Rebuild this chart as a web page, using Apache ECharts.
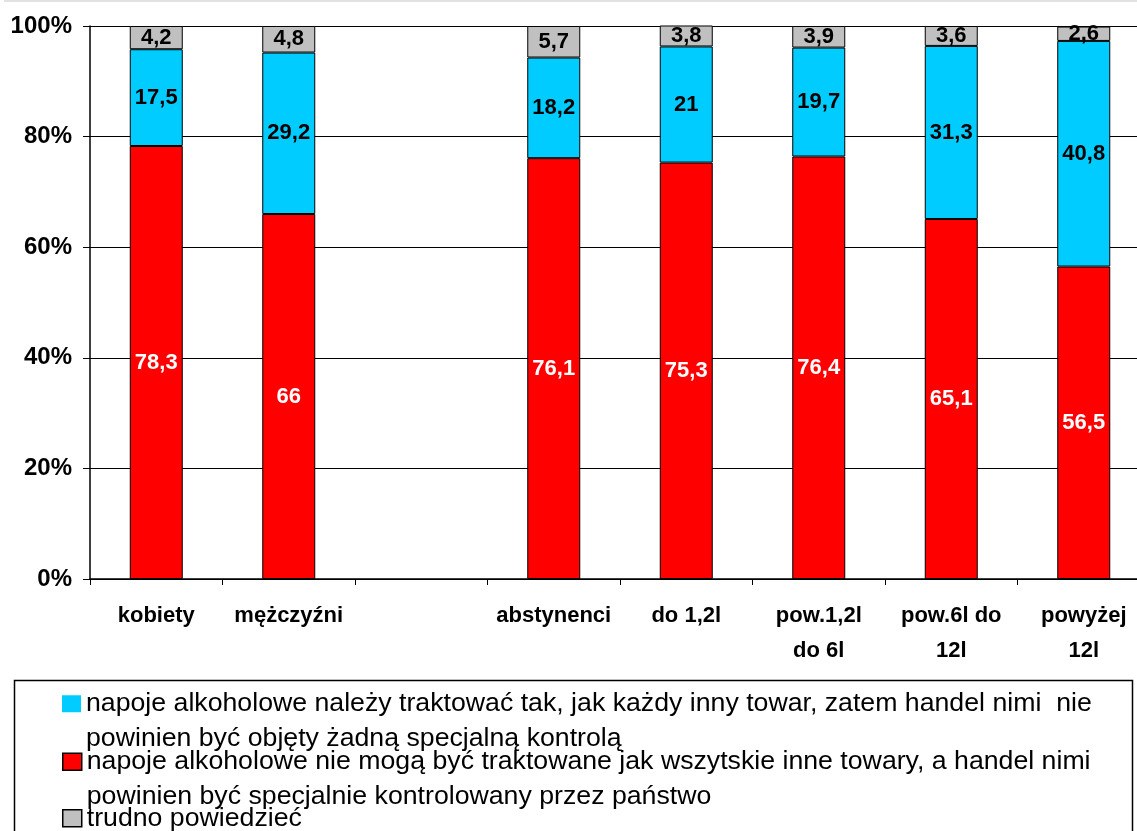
<!DOCTYPE html>
<html>
<head>
<meta charset="utf-8">
<script src="https://cdn.jsdelivr.net/npm/echarts@6/dist/echarts.min.js"></script>
<style>
html,body{margin:0;padding:0;background:#fff;}
#chart{width:1137px;height:831px;}
</style>
</head>
<body>
<div id="chart"></div>
<script>
var categories = ['kobiety', 'mężczyźni', '', 'abstynenci', 'do 1,2l', 'pow.1,2l\ndo 6l', 'pow.6l do\n12l', 'powyżej\n12l'];
var redValues = [78.3, 66, null, 76.1, 75.3, 76.4, 65.1, 56.5];
var blueValues = [17.5, 29.2, null, 18.2, 21, 19.7, 31.3, 40.8];
var grayValues = [4.2, 4.8, null, 5.7, 3.8, 3.9, 3.6, 2.6];
var yTicks = [0, 20, 40, 60, 80, 100];

var nameBlue = 'napoje alkoholowe należy traktować tak, jak każdy inny towar, zatem handel nimi  nie\npowinien być objęty żadną specjalną kontrolą';
var nameRed = 'napoje alkoholowe nie mogą być traktowane jak wszytskie inne towary, a handel nimi\npowinien być specjalnie kontrolowany przez państwo';
var nameGray = 'trudno powiedzieć';

var FONT = "'Liberation Sans', Arial, sans-serif";
function fmt(p) { return p.value == null ? '' : String(p.value).replace('.', ','); }

function barSeries(name, data, color, labelColor) {
  return {
    name: name, type: 'bar', stack: 'total', data: data, barWidth: 53,
    itemStyle: { color: color, borderColor: '#000', borderWidth: 1 },
    label: { show: true, position: 'inside', formatter: fmt, color: labelColor,
      fontFamily: FONT, fontWeight: 'bold', fontSize: 22 },
    emphasis: { disabled: true }
  };
}

function legendCfg(name, top, twoLine, noBorder) {
  return {
    data: [name], left: 62, top: top, orient: 'vertical', padding: 0,
    icon: 'rect', itemWidth: 19, itemHeight: 17, selectedMode: false,
    formatter: twoLine ? function (n) { return '\n' + n; } : '{name}',
    itemStyle: noBorder ? { borderWidth: 0 } : { borderColor: '#000', borderWidth: 1.5 },
    textStyle: { fontFamily: FONT, fontSize: 26.7, lineHeight: 34.5, color: '#000' }
  };
}

var chart = echarts.init(document.getElementById('chart'), null, { renderer: 'canvas' });
chart.setOption({
  backgroundColor: '#fff',
  animation: false,
  grid: { left: 90, top: 26, right: -13, height: 553, containLabel: false, outerBoundsMode: 'none' },
  graphic: [
    { type: 'line', shape: { x1: 4, y1: 1, x2: 1137, y2: 1 }, style: { stroke: '#e2e2e2', lineWidth: 2 } },
    { type: 'rect', shape: { x: 14.5, y: 680.5, width: 1118, height: 170 }, style: { fill: 'none', stroke: '#000', lineWidth: 1.5 }, z: 0 }
  ],
  legend: [
    legendCfg(nameBlue, 652, true, true),
    legendCfg(nameRed, 710, true, false),
    legendCfg(nameGray, 801, false, false)
  ],
  xAxis: {
    type: 'category', data: categories,
    axisLine: { lineStyle: { color: '#000', width: 1.5 } },
    axisTick: { show: true, length: 6, lineStyle: { color: '#000' } },
    axisLabel: { interval: 0, margin: 19, fontFamily: FONT, fontWeight: 'bold', fontSize: 22, lineHeight: 35, color: '#000' }
  },
  yAxis: {
    type: 'value', min: yTicks[0], max: yTicks[yTicks.length - 1], interval: 20,
    axisLine: { show: true, lineStyle: { color: '#000', width: 1.5 } },
    axisTick: { show: true, length: 7, lineStyle: { color: '#000' } },
    splitLine: { show: true, lineStyle: { color: '#000', width: 1 } },
    axisLabel: { margin: 18, formatter: '{value}%', fontFamily: FONT, fontWeight: 'bold', fontSize: 24, color: '#000' }
  },
  series: [
    barSeries(nameRed, redValues, '#FF0000', '#fff'),
    barSeries(nameBlue, blueValues, '#00CCFF', '#000'),
    barSeries(nameGray, grayValues, '#C0C0C0', '#000')
  ]
});
</script>
</body>
</html>
